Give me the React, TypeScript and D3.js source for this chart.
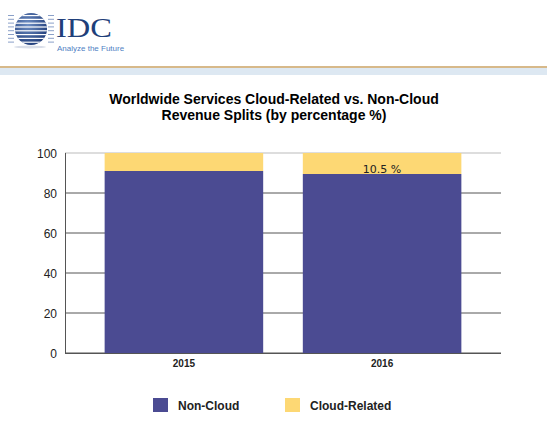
import React from "react";
import * as d3 from "d3";

const years = ["2015", "2016"];
const nonCloud = [91, 89.5];
const cloudRelated = [9, 10.5];
const yTicks = [0, 20, 40, 60, 80, 100];
const seriesNames = ["Non-Cloud", "Cloud-Related"];
const labelText = ["", "10.5 %"];

const W = 547;
const H = 423;
const colors = ["#4b4b92", "#fdd874"];

export default function App() {
  const x = d3.scaleBand().domain(years).range([65, 501]).paddingInner(0.2).paddingOuter(0.2);
  const y = d3.scaleLinear().domain([0, 100]).range([353, 153]);
  const stackData = years.map((yr, i) => ({ year: yr, nc: nonCloud[i], cr: cloudRelated[i] }));
  const stack = d3.stack<any>().keys(["nc", "cr"])(stackData);
  const font = "Arial, 'Liberation Sans', sans-serif";

  const stripes = d3.range(8);
  return (
    <svg width={W} height={H} style={{ position: "absolute", left: 0, top: 0, background: "#fff" }} fontFamily={font}>
      <rect x={0} y={0} width={W} height={H} fill="#fff" />
      {/* Logo */}
      <defs>
        <radialGradient id="globe" cx="0.4" cy="0.35" r="0.7">
          <stop offset="0%" stopColor="#6f8fc4" />
          <stop offset="100%" stopColor="#1d3a78" />
        </radialGradient>
        <clipPath id="gc">
          <circle cx={31} cy={29} r={16} />
        </clipPath>
      </defs>
      <circle cx={31} cy={29} r={16} fill="url(#globe)" />
      <g clipPath="url(#gc)">
        {stripes.map((s) => (
          <rect key={s} x={10} y={15 + s * 3.8} width={44} height={1.2} fill="#fff" />
        ))}
      </g>
      {stripes.map((s) => (
        <g key={"l" + s}>
          <rect x={8} y={15 + s * 3.8} width={6} height={1} fill="#8aa0c8" />
          <rect x={48} y={15 + s * 3.8} width={6} height={1} fill="#8aa0c8" />
        </g>
      ))}
      <ellipse cx={30} cy={47} rx={16} ry={1.5} fill="#d8dde8" />
      <text x={56} y={37} fontFamily="'Liberation Serif', 'DejaVu Serif', serif" fontSize={27} fill="#1f3f7a" textLength={56} lengthAdjust="spacingAndGlyphs">IDC</text>
      <text x={57} y={51} fontSize={8} fill="#4f7fc4">Analyze the Future</text>
      <rect x={0} y={66} width={W} height={2} fill="#d7b98a" />
      <rect x={0} y={68} width={W} height={7} fill="#dde8f2" />

      {/* Title */}
      <text x={274} y={104} textAnchor="middle" fontSize={14} fontWeight="bold" fill="#000">
        Worldwide Services Cloud-Related vs. Non-Cloud
      </text>
      <text x={274} y={120} textAnchor="middle" fontSize={14} fontWeight="bold" fill="#000">
        Revenue Splits (by percentage %)
      </text>

      {/* Gridlines */}
      {yTicks.map((t) => (
        <g key={t}>
          <line x1={65} x2={501} y1={y(t)} y2={y(t)} stroke={t === 100 ? "#bbb" : "#555"} strokeWidth={1} />
          <text x={57} y={y(t) + 4.5} textAnchor="end" fontSize={12} fill="#222">{t}</text>
        </g>
      ))}

      {/* Bars */}
      {stack.map((layer, li) => (
        <g key={li} fill={colors[li]}>
          {layer.map((d: any, i: number) => (
            <rect key={i} x={x(years[i])} y={y(d[1])} width={x.bandwidth()} height={y(d[0]) - y(d[1])} />
          ))}
        </g>
      ))}
      {labelText.map((t, i) =>
        t ? (
          <text key={i} x={(x(years[i]) as number) + x.bandwidth() / 2} y={y(nonCloud[i]) - 1} textAnchor="middle" fontSize={11} fill="#222" fontFamily="'DejaVu Sans', sans-serif">
            {t}
          </text>
        ) : null
      )}
      <line x1={65.5} x2={65.5} y1={153} y2={353} stroke="#555" />
      <line x1={65} x2={501} y1={353.5} y2={353.5} stroke="#555" />

      {/* X labels */}
      {years.map((yr) => (
        <text key={yr} x={(x(yr) as number) + x.bandwidth() / 2} y={367} textAnchor="middle" fontSize={10} fill="#222" fontWeight="bold">
          {yr}
        </text>
      ))}

      {/* Legend */}
      {seriesNames.map((n, i) => (
        <g key={n} transform={`translate(${153 + i * 132}, 398)`}>
          <rect x={0} y={0} width={15} height={14} fill={colors[i]} />
          <text x={25} y={12} fontSize={12} fill="#222" fontWeight="bold">{n}</text>
        </g>
      ))}
    </svg>
  );
}
